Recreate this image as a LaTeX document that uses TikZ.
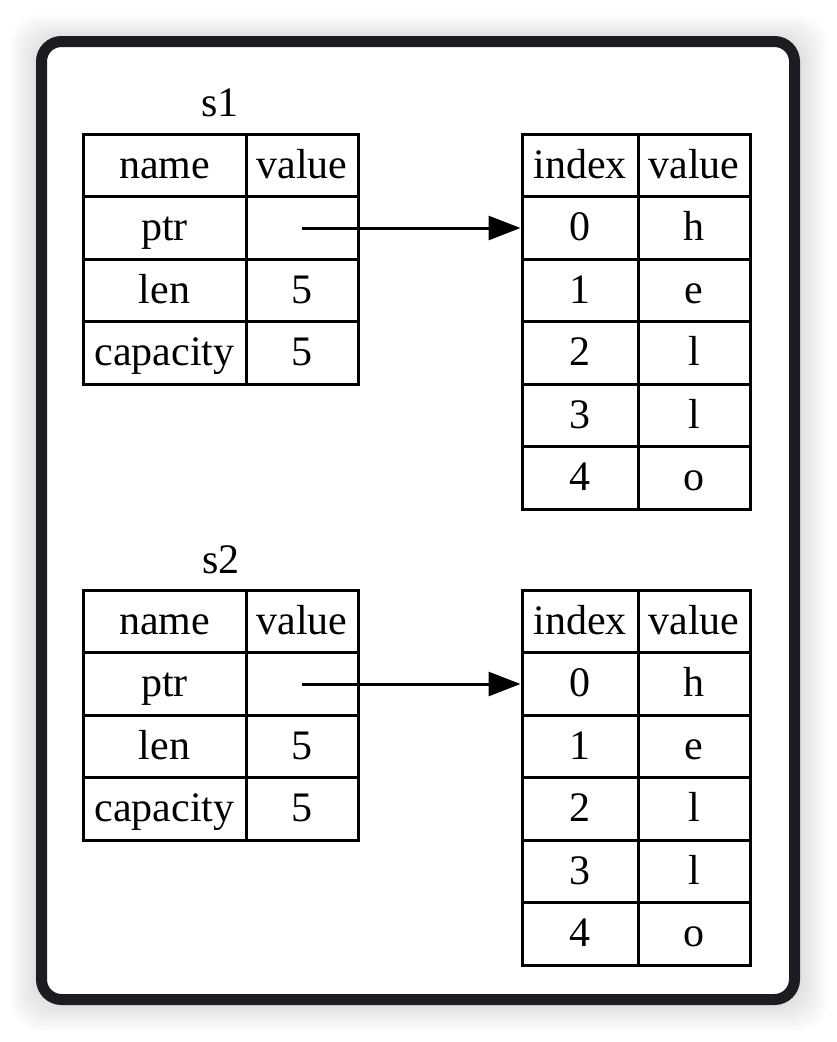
\documentclass[tikz,border=0pt]{standalone}
\usepackage{fontspec}
\setmainfont{Liberation Serif}
\usetikzlibrary{arrows.meta}
\tikzset{>={Triangle[width=24pt,length=32pt]}}
\definecolor{framecol}{HTML}{1B1D23}
\tikzset{
  cell/.style={draw=black, line width=3pt, inner sep=0pt, minimum height=62.5pt, text height=32pt, text depth=7pt},
  namecol/.style={cell, minimum width=163pt},
  valcol/.style={cell, minimum width=112pt},
  idxcol/.style={cell, minimum width=116pt}
}
\begin{document}
\begin{tikzpicture}[x=1pt, y=-1pt, font=\fontsize{42}{50}\selectfont]
  \useasboundingbox (0,0) rectangle (836,1042);
  % shadow and frame
  \foreach \s in {1,...,10}
    \fill[black, opacity=0.012, rounded corners=30pt] (36-2.6*\s,36-2.4*\s+3) rectangle (800+2.8*\s,1005+2.6*\s);
  \draw[framecol, fill=white, line width=11pt, rounded corners=20pt] (41.5,41.5) rectangle (794.5,999.5);

  \node (s1) at (220,103) {s1};
  \node (s2) at (221,560) {s2};

  % s1
  \node[namecol] (s1name) at (164.5,165.5) {name};
  \node[valcol] (s1value) at (302,165.5) {value};
  \node[namecol] (s1ptr) at (164.5,228) {ptr};
  \node[valcol] (s1ptrval) at (302,228) {};
  \node[namecol] (s1len) at (164.5,290.5) {len};
  \node[valcol] (s1lenval) at (302,290.5) {5};
  \node[namecol] (s1cap) at (164.5,353) {capacity};
  \node[valcol] (s1capval) at (302,353) {5};

  % s2
  \node[namecol] (s2name) at (164.5,621.5) {name};
  \node[valcol] (s2value) at (302,621.5) {value};
  \node[namecol] (s2ptr) at (164.5,684) {ptr};
  \node[valcol] (s2ptrval) at (302,684) {};
  \node[namecol] (s2len) at (164.5,746.5) {len};
  \node[valcol] (s2lenval) at (302,746.5) {5};
  \node[namecol] (s2cap) at (164.5,809) {capacity};
  \node[valcol] (s2capval) at (302,809) {5};

  % heap
  \node[idxcol] (h1index) at (580,165.5) {index};
  \node[valcol] (h1value) at (694,165.5) {value};
  \node[idxcol] (h2index) at (580,621.5) {index};
  \node[valcol] (h2value) at (694,621.5) {value};
  \foreach \i/\c in {0/h,1/e,2/l,3/l,4/o} {
    \node[idxcol] (h1idx\i) at (580,228+62.5*\i) {\i};
    \node[valcol] (h1val\i) at (694,228+62.5*\i) {\c};
    \node[idxcol] (h2idx\i) at (580,684+62.5*\i) {\i};
    \node[valcol] (h2val\i) at (694,684+62.5*\i) {\c};
  }

  \draw[->, line width=3pt] (s1ptrval.center) -- (h1idx0.west);
  \draw[->, line width=3pt] (s2ptrval.center) -- (h2idx0.west);
\end{tikzpicture}
\end{document}
